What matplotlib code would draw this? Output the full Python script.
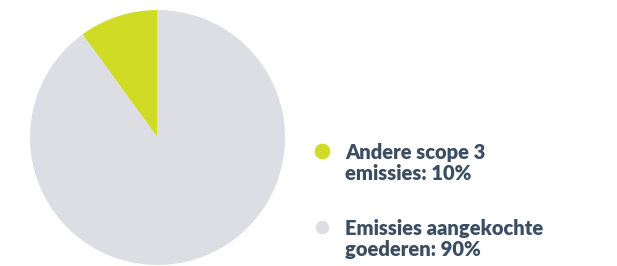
import matplotlib
matplotlib.use("Agg")
import matplotlib.pyplot as plt

categories = ["Andere scope 3\nemissies", "Emissies aangekochte\ngoederen"]
values = [10, 90]
colors = ["#cfdb24", "#dddee3"]
text_color = "#3b4d61"

W, H = 617, 266
fig = plt.figure(figsize=(W / 100, H / 100), dpi=100)

ax = fig.add_axes([30 / W, 1 / H, 255 / W, 255 / H])
ax.pie(values, colors=colors, startangle=90, counterclock=True,
       wedgeprops=dict(linewidth=0))
ax.set_xlim(-1, 1)
ax.set_ylim(-1, 1)
ax.set_aspect("equal")
ax.axis("off")

lax = fig.add_axes([0, 0, 1, 1])
lax.set_xlim(0, W)
lax.set_ylim(H, 0)
lax.axis("off")

marker_y = [151, 227]
marker_sizes = [15, 13]
for cat, val, col, my, ms in zip(categories, values, colors, marker_y, marker_sizes):
    lax.plot([321.5], [my], marker="o", markersize=ms * 0.75, color=col,
             markeredgewidth=0)
    lax.text(345, my - 8, f"{cat}: {val}%", color=text_color, fontsize=14.5,
             fontweight="heavy", family="Lato", va="top", ha="left",
             linespacing=1.15)

fig.savefig("out.png", dpi=100)
